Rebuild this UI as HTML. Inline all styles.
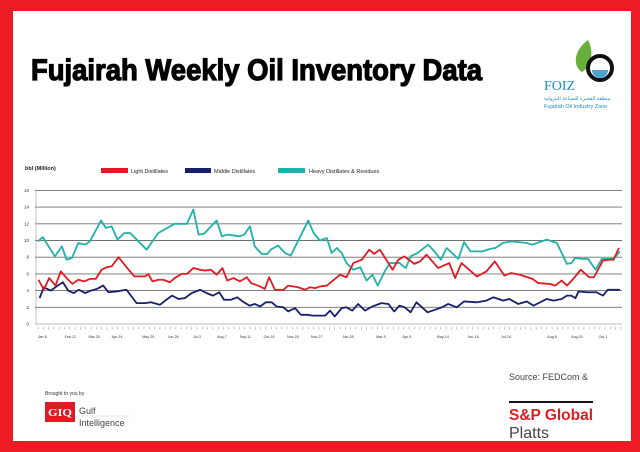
<!DOCTYPE html>
<html><head><meta charset="utf-8">
<style>
body{margin:0;width:640px;height:452px;background:#ed1c24;overflow:hidden;font-family:"Liberation Sans",sans-serif}
#panel{position:absolute;left:13px;top:11px;width:618px;height:430px;background:#fff}
svg{position:absolute;left:0;top:0}
</style></head>
<body>
<div id="panel"></div>
<svg id="chart" width="640" height="452">
  <text x="31" y="80" font-size="30" font-weight="bold" fill="#000" stroke="#000" stroke-width="1.2" textLength="451" lengthAdjust="spacingAndGlyphs">Fujairah Weekly Oil Inventory Data</text>
  <g>
    <path d="M588 40 C574 50 572 66 582 72 C592 66 594 50 588 40Z" fill="#6aae3c"/>
    <circle cx="600" cy="68" r="12" fill="none" stroke="#111" stroke-width="4"/>
    <path d="M592 70 a8 8 0 0 0 16 0" fill="#4aa6d0"/>
    <text x="544" y="90" font-size="14" fill="#1a8fc8" font-family="Liberation Serif,serif">FOIZ</text>
    <text x="544" y="100" font-size="5" fill="#1a8fc8">منطقة الفجيرة للصناعة البترولية</text>
    <text x="544" y="108" font-size="5.5" fill="#1a8fc8">Fujairah Oil Industry Zone</text>
  </g>
  <text x="25" y="170" font-size="5.5" font-weight="bold" fill="#222">bbl (Million)</text>
  <g>
    <rect x="101" y="168" width="27" height="5" fill="#e01b22"/>
    <text x="131" y="173" font-size="5.5" fill="#222">Light Distillates</text>
    <rect x="185" y="168" width="26" height="5" fill="#1a1f6b"/>
    <text x="214" y="173" font-size="5.5" fill="#222">Middle Distillates</text>
    <rect x="278" y="168" width="27" height="5" fill="#20b2aa"/>
    <text x="309" y="173" font-size="5.5" fill="#222">Heavy Distillates &amp; Residues</text>
  </g>
  <g id="grid"></g><g id="xaxis"></g><g id="series"></g>
  <text x="45" y="395" font-size="5" fill="#333">Brought to you by</text>
  <g>
    <rect x="45" y="402" width="30" height="20" fill="#e01b22"/>
    <text x="48" y="416" font-size="10" font-weight="bold" fill="#fff" font-family="Liberation Serif,serif" textLength="24" lengthAdjust="spacingAndGlyphs">GIQ</text>
    <text x="79" y="414" font-size="9" fill="#444">Gulf</text>
    <line x1="79" y1="416" x2="130" y2="416" stroke="#ccc" stroke-width="0.5"/>
    <text x="79" y="426" font-size="9" fill="#444">Intelligence</text>
  </g>
  <text x="509" y="380" font-size="9" fill="#444">Source: FEDCom &amp;</text>
  <g>
    <rect x="509" y="401" width="84" height="2" fill="#111"/>
    <text x="509" y="420" font-size="16" font-weight="bold" fill="#e01b22" textLength="84" lengthAdjust="spacingAndGlyphs">S&amp;P Global</text>
    <text x="509" y="438" font-size="16" fill="#444">Platts</text>
  </g>
</svg>
<script>
// Chart data (week index from first week, values in million bbl)
const yTicks = [0,2,4,6,8,10,12,14,16];
const xLabels = ["Jan-8","Feb-12","Mar-20","Apr-24","May-29","Jun-26","Jul-3","Aug-7","Sep-11","Oct-16","Nov-20","Nov-27","Jan-28","Mar-5","Apr-9","May-14","Jun-18","Jul-16","Aug-6","Aug-20","Oct-1"];
const xLabelWeeks = [0.8,6.1,10.6,14.9,20.8,25.5,30.0,34.7,39.1,43.6,48.1,52.6,58.5,64.7,69.6,76.4,82.1,88.3,97.0,101.7,106.6];
const heavyWeeks = [0,0.9,3.2,4.5,5.4,6.4,7.6,8.9,9.8,11.9,12.8,13.9,15.0,16.3,17.4,20.5,22.7,25.8,28.1,29.3,30.3,31.3,33.7,34.7,35.7,38.1,38.9,40.0,40.9,42.2,43.3,43.9,45.3,46.6,47.7,51.0,52.0,53.2,54.5,55.4,56.4,57.3,58.2,59.5,60.8,62.0,63.1,64.1,65.5,66.4,68.2,69.4,70.3,71.6,73.6,74.8,76.0,77.1,79.3,80.4,81.6,83.9,85.3,86.3,87.7,89.4,92.2,93.2,96.0,97.9,99.8,100.7,101.3,102.6,103.8,105.2,106.4,108.6,109.8];
const heavyValues = [9.9,10.4,8.1,9.3,7.7,7.9,9.7,9.5,9.9,12.4,11.5,11.7,10.1,10.9,10.9,8.9,10.9,12.0,12.0,13.7,10.7,10.8,12.4,10.5,10.7,10.5,10.7,11.7,9.3,8.4,8.4,8.9,9.4,8.5,8.2,12.4,10.9,10.0,10.3,8.5,9.1,8.5,7.3,6.5,6.8,5.2,5.9,4.6,6.4,7.3,7.3,6.7,8.1,8.5,9.5,8.7,7.7,9.1,7.8,9.8,8.7,8.7,9.0,9.1,9.7,9.9,9.7,9.5,10.1,9.7,7.2,7.3,7.9,7.8,7.8,6.5,7.8,7.8,8.7];
const lightWeeks = [0.1,1.1,2.1,3.3,4.3,5.4,6.5,7.6,8.7,9.8,10.9,12.0,13.0,13.9,15.2,16.7,18.2,20.2,20.8,21.6,22.7,23.6,24.9,25.8,27.1,28.1,29.3,30.6,31.5,32.6,33.7,34.8,35.7,36.9,38.1,39.4,40.2,41.9,42.8,43.6,44.7,46.3,47.2,49.1,50.4,51.3,52.3,53.2,54.5,57.0,58.2,59.5,61.1,62.5,63.4,64.5,66.9,68.0,69.1,71.0,72.1,73.3,75.5,77.6,78.7,79.9,82.8,84.6,86.2,88.0,89.2,90.9,93.3,94.4,96.6,97.6,98.8,99.8,101.0,102.4,104.0,104.9,106.6,107.6,108.6,109.6];
const lightValues = [5.3,4.1,5.5,4.6,6.3,5.5,4.8,5.3,5.1,5.4,5.4,6.5,6.8,6.9,8.0,6.8,5.7,5.7,6.0,5.1,5.3,5.3,5.0,5.5,6.0,6.0,6.7,6.5,6.4,6.5,5.9,6.7,5.2,5.5,5.1,5.6,4.9,4.5,4.2,5.6,4.1,4.1,4.6,4.4,4.1,4.4,4.3,4.5,4.6,5.9,5.6,7.3,7.7,8.9,8.4,8.9,6.5,7.7,8.1,7.2,7.5,8.3,6.7,7.3,5.5,7.3,5.7,6.3,7.5,5.8,6.1,5.9,5.4,4.9,4.8,4.6,5.2,4.6,5.4,6.5,5.6,5.6,7.6,7.7,7.7,9.1];
const middleWeeks = [0.3,1.1,2.4,3.5,4.7,5.7,6.7,7.7,8.9,10.0,11.1,12.3,13.3,14.8,16.7,18.6,20.2,21.3,23.0,24.2,25.3,26.5,27.7,29.0,30.6,31.8,33.0,34.2,35.1,36.4,37.6,38.6,39.9,40.9,41.9,43.0,44.1,45.0,46.3,47.2,48.5,49.6,50.8,51.8,53.2,54.2,55.1,56.0,57.3,58.2,59.3,60.4,61.7,63.1,64.8,66.1,67.2,68.2,69.2,70.3,71.4,73.5,74.9,76.2,77.4,79.0,80.4,82.8,84.6,85.9,87.8,88.9,90.6,92.2,93.5,96.0,97.3,98.8,99.8,100.6,101.4,102.0,103.6,105.4,106.6,107.5,109.8];
const middleValues = [3.1,4.4,4.0,4.5,5.0,4.0,3.7,4.1,3.7,4.0,4.2,4.6,3.8,3.9,4.1,2.5,2.5,2.6,2.3,2.9,3.4,3.0,3.1,3.7,4.1,3.7,3.4,3.8,2.9,2.9,3.2,2.7,2.2,2.4,2.1,2.6,2.6,2.1,2.0,1.5,1.9,1.1,1.1,1.0,1.0,1.0,1.6,0.9,1.9,2.0,1.6,2.4,1.6,2.1,2.5,2.4,1.5,2.2,2.0,1.4,2.6,1.4,1.7,2.0,2.4,2.0,2.7,2.6,2.8,3.2,2.8,3.0,2.4,2.7,2.2,3.0,2.8,3.0,3.4,3.4,3.1,3.9,3.8,3.8,3.4,4.1,4.1];

const NS="http://www.w3.org/2000/svg";
const xScale = w => 38 + w*5.3;
const yScale = v => 324 - v*8.35;
const grid=document.getElementById('grid'), xa=document.getElementById('xaxis'), ser=document.getElementById('series');
function mk(tag,attrs,parent){const e=document.createElementNS(NS,tag);for(const k in attrs)e.setAttribute(k,attrs[k]);parent.appendChild(e);return e;}
yTicks.forEach(t=>{
  const l=mk('line',{x1:35,x2:622,y1:yScale(t),y2:yScale(t),stroke:t===0?'#bbb':'#6f6f6f','stroke-width':0.9},grid);
  
  
  const tx=mk('text',{x:29,y:yScale(t)+1.5,'font-size':4.5,'text-anchor':'end',fill:'#333'},grid);
  tx.textContent=t;
  
  
});
mk('line',{x1:36,x2:36,y1:yScale(16),y2:yScale(0),stroke:'#999','stroke-width':0.6},grid);
for(let w=0;w<=110;w++){
  const tk=mk('line',{x1:xScale(w),x2:xScale(w),y1:327,y2:329.5,stroke:'#888','stroke-width':0.5},xa);
  
  
}
xLabels.forEach((s,i)=>{
  const tx=mk('text',{x:xScale(xLabelWeeks[i]),y:338,'font-size':3.6,'text-anchor':'middle',fill:'#333'},xa);
  tx.textContent=s;
  
  
});
function line(ws,vs,color,name){
  const p=mk('polyline',{points:ws.map((w,i)=>xScale(w)+','+yScale(vs[i])).join(' '),fill:'none',stroke:color,'stroke-width':1.8,'stroke-linejoin':'round'},ser);
  
  
}
line(heavyWeeks,heavyValues,'#20b2aa','heavy-distillates-line');
line(middleWeeks,middleValues,'#1a1f6b','middle-distillates-line');
line(lightWeeks,lightValues,'#e01b22','light-distillates-line');
</script>
</body></html>
